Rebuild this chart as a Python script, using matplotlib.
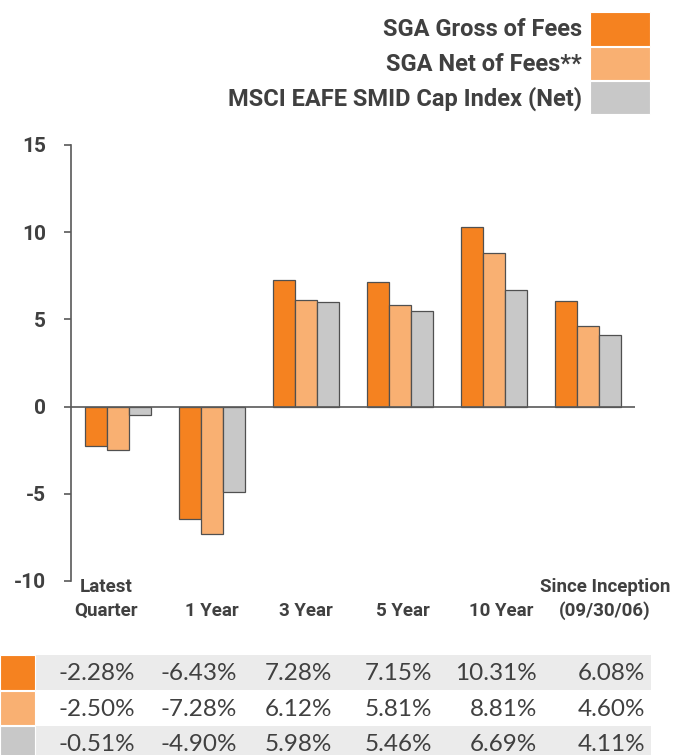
import matplotlib
matplotlib.use("Agg")
import matplotlib.pyplot as plt
from matplotlib.patches import Rectangle
import numpy as np

categories_line1 = ["Latest", "", "", "", "", "Since Inception"]
categories_line2 = ["Quarter", "1 Year", "3 Year", "5 Year", "10 Year", "(09/30/06)"]
series_names = ["SGA Gross of Fees", "SGA Net of Fees**", "MSCI EAFE SMID Cap Index (Net)"]
gross = [-2.28, -6.43, 7.28, 7.15, 10.31, 6.08]
net = [-2.50, -7.28, 6.12, 5.81, 8.81, 4.60]
index = [-0.51, -4.90, 5.98, 5.46, 6.69, 4.11]
yticks = [-10, -5, 0, 5, 10, 15]

colors = ["#F58220", "#F9B072", "#C8C8C8"]
txt = "#404040"
axcol = "#595959"
W, H = 673, 755
bold_font = ["Roboto", "DejaVu Sans"]

fig = plt.figure(figsize=(W / 100, H / 100), dpi=100)
fig.patch.set_facecolor("white")

def fx(px):
    return px / W

def fy(py):
    return 1 - py / H

ax = fig.add_axes([fx(71), fy(581), fx(635) - fx(71), fy(145) - fy(581)])
x = np.arange(len(categories_line2))
bw = 0.234
for k, vals in enumerate([gross, net, index]):
    ax.bar(x + (k - 1) * bw, vals, width=bw, color=colors[k],
           edgecolor="#505050", linewidth=0.9, zorder=2)

ax.set_xlim(-0.5, len(x) - 0.5)
ax.set_ylim(-10, 15)
ax.axhline(0, color=axcol, linewidth=1.2, zorder=3)
for s in ["top", "right", "bottom"]:
    ax.spines[s].set_visible(False)
ax.spines["left"].set_color(axcol)
ax.spines["left"].set_linewidth(1.2)
ax.set_yticks(yticks)
ax.set_yticklabels([str(t) for t in yticks])
ax.tick_params(axis="y", direction="out", length=5, width=1.2, color=axcol,
               pad=13, labelsize=15, labelcolor=txt)
for lab in ax.get_yticklabels():
    lab.set_fontweight("bold")
    lab.set_fontfamily(bold_font)
ax.set_xticks([])

cat_font = ["Liberation Sans Narrow", "Roboto", "DejaVu Sans"]
nudge = [-0.13, 0, 0, 0.03, 0.08, 0.18]
tr = ax.get_xaxis_transform()
for i in range(len(x)):
    ax.text(x[i] + nudge[i], -0.014, categories_line1[i], transform=tr, ha="center",
            va="center", fontsize=13.5, fontweight="bold", color=txt, family=cat_font)
    ax.text(x[i] + nudge[i], -0.069, categories_line2[i], transform=tr, ha="center",
            va="center", fontsize=13.5, fontweight="bold", color=txt, family=cat_font)

# Legend
leg_y = [(12, 46), (47, 80), (81, 114)]
for k, name in enumerate(series_names):
    y0, y1 = leg_y[k]
    fig.patches.append(Rectangle((fx(590), fy(y1)), fx(650) - fx(590), fy(y0) - fy(y1),
                                 transform=fig.transFigure, facecolor=colors[k],
                                 edgecolor="white", linewidth=0.8))
    fig.text(fx(582), fy((y0 + y1) / 2 + 1), name, ha="right", va="center",
             fontsize=17, fontweight="bold", color=txt, family=bold_font)

# Data table
row_y = [(655, 690), (691, 725), (726, 761)]
col_right = [135, 237, 332, 432, 537, 645]
for k, vals in enumerate([gross, net, index]):
    y0, y1 = row_y[k]
    if k != 1:
        fig.patches.append(Rectangle((fx(36), fy(y1)), fx(651) - fx(36), fy(y0) - fy(y1),
                                     transform=fig.transFigure, facecolor="#EBEBEB",
                                     edgecolor="none"))
    fig.patches.append(Rectangle((fx(0), fy(y1)), fx(35), fy(y0) - fy(y1),
                                 transform=fig.transFigure, facecolor=colors[k],
                                 edgecolor="white", linewidth=0.8))
    for j, v in enumerate(vals):
        fig.text(fx(col_right[j]), fy((y0 + y1) / 2 + 1), f"{v:.2f}%", ha="right",
                 va="center", fontsize=17.5, color=txt, family=["Lato", "DejaVu Sans"])

fig.savefig("out.png", dpi=100)
